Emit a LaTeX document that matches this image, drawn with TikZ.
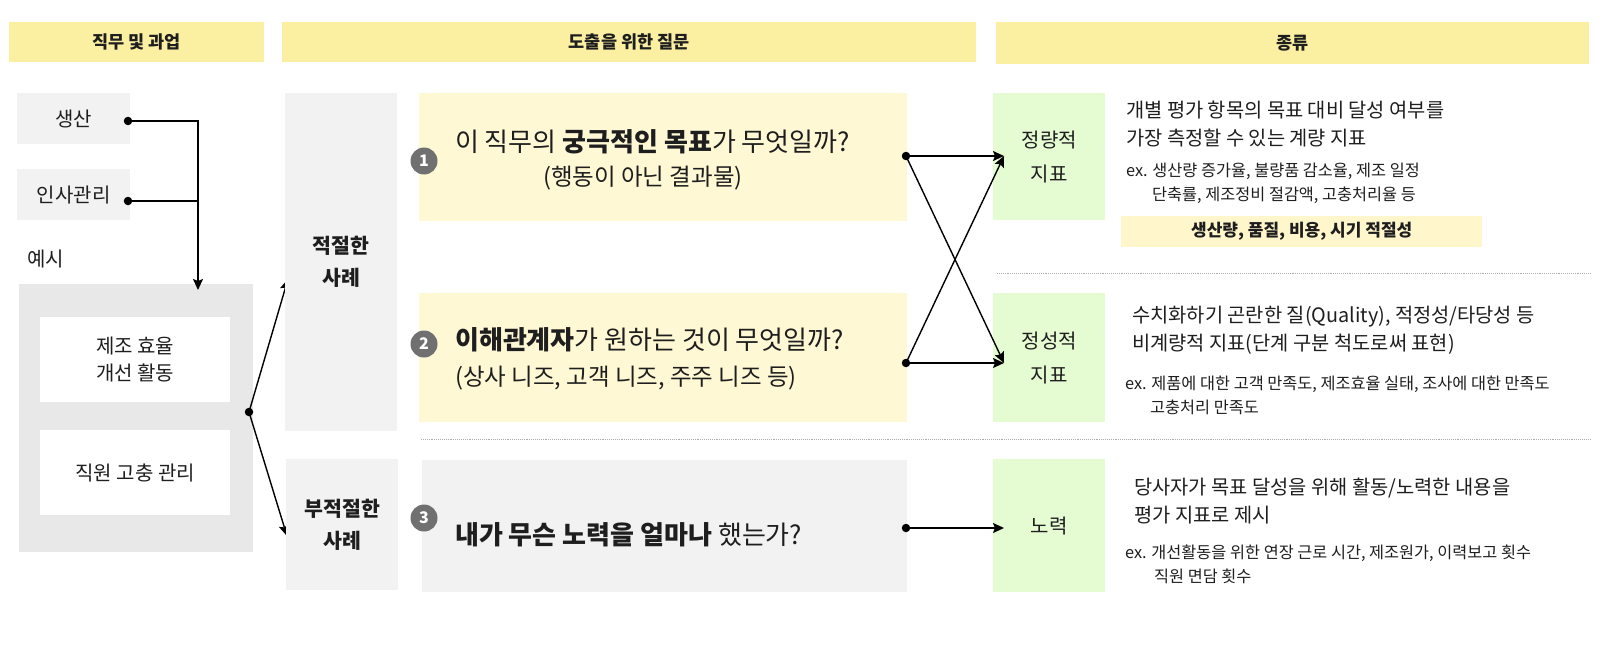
\documentclass[tikz,border=0pt]{standalone}
\usepackage{fontspec}
\setmainfont{Noto Sans CJK KR}
\usetikzlibrary{arrows.meta}
\usetikzlibrary{calc}

\definecolor{hdryellow}{RGB}{251,240,162}
\definecolor{qyellow}{RGB}{255,248,212}
\definecolor{tagyellow}{RGB}{255,246,204}
\definecolor{kindgreen}{RGB}{229,252,211}
\definecolor{boxgray}{RGB}{242,242,242}
\definecolor{exgray}{RGB}{232,232,232}
\definecolor{badgegray}{RGB}{112,112,112}
\definecolor{txt}{RGB}{30,30,30}

\tikzset{
  hdr/.style={fill=hdryellow, anchor=north west, inner sep=0pt, font=\fontsize{17.5}{20}\selectfont\bfseries},
  grybox/.style={fill=boxgray, anchor=north west, inner sep=0pt, align=center, font=\fontsize{20}{27}\selectfont},
  whtbox/.style={grybox, fill=white},
  casebox/.style={grybox, font=\fontsize{20.5}{32}\selectfont\bfseries},
  qbox/.style={anchor=north west, inner sep=0pt},
  kindbox/.style={fill=kindgreen, anchor=north west, inner sep=0pt, align=center, font=\fontsize{20}{34}\selectfont},
  badge/.style={circle, fill=badgegray, inner sep=0pt, minimum size=27, text=white, font=\fontsize{16}{16}\selectfont\bfseries},
  qmain/.style={anchor=west, inner sep=0pt, font=\fontsize{26}{30}\selectfont},
  qsub/.style={anchor=west, inner sep=0pt, font=\fontsize{23.5}{28}\selectfont},
  desc/.style={anchor=west, inner sep=0pt, align=left, font=\fontsize{19.8}{28}\selectfont},
  extext/.style={anchor=west, inner sep=0pt, align=left, font=\fontsize{16.3}{24}\selectfont},
  dot/.style={circle, fill=black, inner sep=0pt, minimum size=8.5},
  conn/.style={line width=1.4pt, -{Stealth[length=11pt,width=10pt,inset=2pt]}},
  link/.style={line width=1.4pt},
  sep/.style={gray!65, densely dotted, line width=0.9pt}
}

\begin{document}
\begin{tikzpicture}[x=1pt, y=-1pt, every node/.style={text=txt}]
\useasboundingbox (0,0) rectangle (1600,658);

% headers
\node[hdr, minimum width=255, minimum height=40] (hjob) at (9,22) {직무 및 과업};
\node[hdr, minimum width=694, minimum height=40] (hask) at (282,22) {도출을 위한 질문};
\node[hdr, minimum width=593, minimum height=42] (hkind) at (996,22) {종류};

% job column
\node[grybox, minimum width=113, minimum height=51] (prod) at (17,93) {생산};
\node[grybox, minimum width=113, minimum height=51] (hr) at (17,169) {인사관리};
\node[anchor=west, inner sep=0pt, font=\fontsize{20}{22}\selectfont] (exlbl) at (27,259) {예시};
\node[fill=exgray, anchor=north west, inner sep=0pt, minimum width=234, minimum height=268] (exbox) at (19,284) {};
\node[whtbox, minimum width=190, minimum height=85] (eff) at (40,317) {제조 효율\\개선 활동};
\node[whtbox, minimum width=190, minimum height=85] (griev) at (40,430) {직원 고충 관리};

\node[dot] (dprod) at (128,121) {};
\node[dot] (dhr) at (128,201) {};
\coordinate (tjob) at (198,290);
\draw[conn] (dprod.center) -| (tjob);
\draw[link] (dhr.center) -- (dhr -| tjob);

\node[dot] (dfork) at (249,412) {};
\coordinate (tgood) at (288,279);
\coordinate (tbad) at (287,536);
\draw[conn] (dfork.center) -- (tgood);
\draw[conn] (dfork.center) -- (tbad);

% question column
\node[casebox, minimum width=112, minimum height=338] (good) at (285,93) {적절한\\사례};
\node[casebox, minimum width=112, minimum height=131] (bad) at (286,459) {부적절한\\사례};

\node[qbox, fill=qyellow, minimum width=488, minimum height=128] (q1) at (419,93) {};
\node[qbox, fill=qyellow, minimum width=488, minimum height=129] (q2) at (419,293) {};
\node[qbox, fill=boxgray, minimum width=485, minimum height=132] (q3) at (422,460) {};

\node[badge] (b1) at (424,161) {1};
\node[badge] (b2) at (424,344) {2};
\node[badge] (b3) at (424,518) {3};

\node[qmain] (q1a) at (455,142) {이 직무의 \textbf{궁극적인 목표}가 무엇일까?};
\node[qsub] (q1b) at (543,178) {(행동이 아닌 결과물)};
\node[qmain] (q2a) at (455,340) {\textbf{이해관계자}가 원하는 것이 무엇일까?};
\node[qsub] (q2b) at (455,378) {(상사 니즈, 고객 니즈, 주주 니즈 등)};
\node[qmain] (q3a) at (455,535) {\textbf{내가 무슨 노력을 얼마나} 했는가?};

\draw[sep] (997,273) -- (1590,273);
\draw[sep] (421,439) -- (1590,439);

% kind column
\node[kindbox, minimum width=112, minimum height=127] (quant) at (993,93) {정량적\\지표};
\node[kindbox, minimum width=112, minimum height=129] (qual) at (993,293) {정성적\\지표};
\node[kindbox, minimum width=112, minimum height=133] (effort) at (993,459) {노력};

\node[dot] (dq1) at (906,156) {};
\node[dot] (dq2) at (906,363) {};
\node[dot] (dq3) at (906,528) {};
\coordinate (tquant) at (1004,156);
\coordinate (tqual) at (1004,363);
\coordinate (teffort) at (1004,528);
\draw[conn] (dq1.center) -- (tquant);
\draw[conn] (dq1.center) -- (tqual);
\draw[conn] (dq2.center) -- (tqual);
\draw[conn] (dq2.center) -- (tquant);
\draw[conn] (dq3.center) -- (teffort);

\node[desc] (dquant) at (1126,124.5) {개별 평가 항목의 목표 대비 달성 여부를\\가장 측정할 수 있는 계량 지표};
\node[extext] (equant) at (1126,183.5) {ex. 생산량 증가율, 불량품 감소율, 제조 일정\\\hspace*{26pt}단축률, 제조정비 절감액, 고충처리율 등};
\node[qbox, fill=tagyellow, minimum width=361, minimum height=31, font=\fontsize{17}{20}\selectfont\bfseries] (tag) at (1121,216) {생산량, 품질, 비용, 시기 적절성};

\node[desc] (dqual) at (1132,330.5) {수치화하기 곤란한 질(Quality), 적정성/타당성 등\\비계량적 지표(단계 구분 척도로써 표현)};
\node[extext] (equal) at (1125,395) {ex. 제품에 대한 고객 만족도, 제조효율 실태, 조사에 대한 만족도\\\hspace*{25pt}고충처리 만족도};

\node[desc] (deffort) at (1134,501) {당사자가 목표 달성을 위해 활동/노력한 내용을\\평가 지표로 제시};
\node[extext] (eeffort) at (1125,564.5) {ex. 개선활동을 위한 연장 근로 시간, 제조원가, 이력보고 횟수\\\hspace*{29pt}직원 면담 횟수};
\end{tikzpicture}
\end{document}
